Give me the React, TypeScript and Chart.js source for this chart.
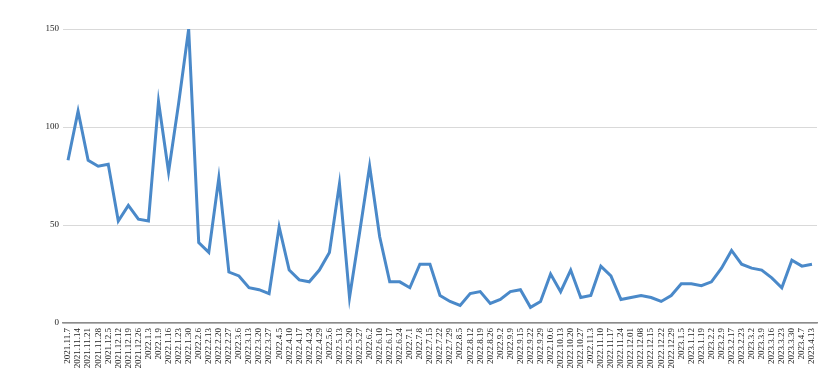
import React, { useEffect, useRef } from "react";
import { Chart, registerables } from "chart.js";

Chart.register(...registerables);

const labels: string[] = [
  "2021.11.7", "2021.11.14", "2021.11.21", "2021.11.28", "2021.12.5", "2021.12.12", "2021.12.19", "2021.12.26",
  "2022.1.3", "2022.1.9", "2022.1.16", "2022.1.23", "2022.1.30",
  "2022.2.6", "2022.2.13", "2022.2.20", "2022.2.27",
  "2022.3.6", "2022.3.13", "2022.3.20", "2022.3.27",
  "2022.4.5", "2022.4.10", "2022.4.17", "2022.4.24", "2022.4.29",
  "2022.5.6", "2022.5.13", "2022.5.20", "2022.5.27",
  "2022.6.2", "2022.6.10", "2022.6.17", "2022.6.24",
  "2022.7.1", "2022.7.8", "2022.7.15", "2022.7.22", "2022.7.29",
  "2022.8.5", "2022.8.12", "2022.8.19", "2022.8.26",
  "2022.9.2", "2022.9.9", "2022.9.15", "2022.9.22", "2022.9.29",
  "2022.10.6", "2022.10.13", "2022.10.20", "2022.10.27",
  "2022.11.3", "2022.11.10", "2022.11.17", "2022.11.24",
  "2022.12.01", "2022.12.08", "2022.12.15", "2022.12.22", "2022.12.29",
  "2023.1.5", "2023.1.12", "2023.1.19",
  "2023.2.2", "2023.2.9", "2023.2.17", "2023.2.23",
  "2023.3.2", "2023.3.9", "2023.3.16", "2023.3.23", "2023.3.30",
  "2023.4.7", "2023.4.13",
];

const values: number[] = [
  83, 108, 83, 80, 81, 52, 60, 53,
  52, 113, 77, 112, 150,
  41, 36, 74, 26,
  24, 18, 17, 15,
  49, 27, 22, 21, 27,
  36, 71, 13, 46,
  80, 44, 21, 21,
  18, 30, 30, 14, 11,
  9, 15, 16, 10,
  12, 16, 17, 8, 11,
  25, 16, 27, 13,
  14, 29, 24, 12,
  13, 14, 13, 11, 14,
  20, 20, 19,
  21, 28, 37, 30,
  28, 27, 23, 18, 32,
  29, 30,
];

const yMin = 0;
const yMax = 150;
const yStep = 50;

export default function App() {
  const ref = useRef<HTMLCanvasElement | null>(null);

  useEffect(() => {
    if (!ref.current) return;
    const chart = new Chart(ref.current, {
      type: "line",
      data: {
        labels,
        datasets: [
          {
            data: values,
            borderColor: "rgb(74,137,201)",
            borderWidth: 3,
            pointRadius: 0,
            tension: 0,
            fill: false,
          },
        ],
      },
      options: {
        animation: false,
        responsive: false,
        maintainAspectRatio: false,
        layout: { padding: { left: 0, right: 15, top: 29, bottom: 0 } },
        plugins: { legend: { display: false }, tooltip: { enabled: false } },
        scales: {
          x: {
            offset: true,
            grid: { display: false, drawTicks: false },
            border: { display: true, color: "#8c8c8c", width: 1.5 },
            ticks: {
              autoSkip: false,
              maxRotation: 90,
              minRotation: 90,
              padding: 5,
              color: "#222",
              font: { family: "'Liberation Serif', serif", size: 9 },
            },
            afterFit: (s: any) => {
              s.height = 53;
            },
          },
          y: {
            min: yMin,
            max: yMax,
            ticks: {
              stepSize: yStep,
              padding: 4,
              color: "#222",
              font: { family: "'Liberation Serif', serif", size: 9 },
            },
            grid: { color: "#d9d9d9", lineWidth: 1, drawTicks: false },
            border: { display: false },
            afterFit: (s: any) => {
              s.width = 63;
            },
          },
        },
      },
    });
    return () => chart.destroy();
  }, []);

  return (
    <div style={{ position: "fixed", left: 0, top: 0, width: 832, height: 376, background: "#fff" }}>
      <canvas ref={ref} width={832} height={376} style={{ display: "block", width: 832, height: 376 }} />
    </div>
  );
}
